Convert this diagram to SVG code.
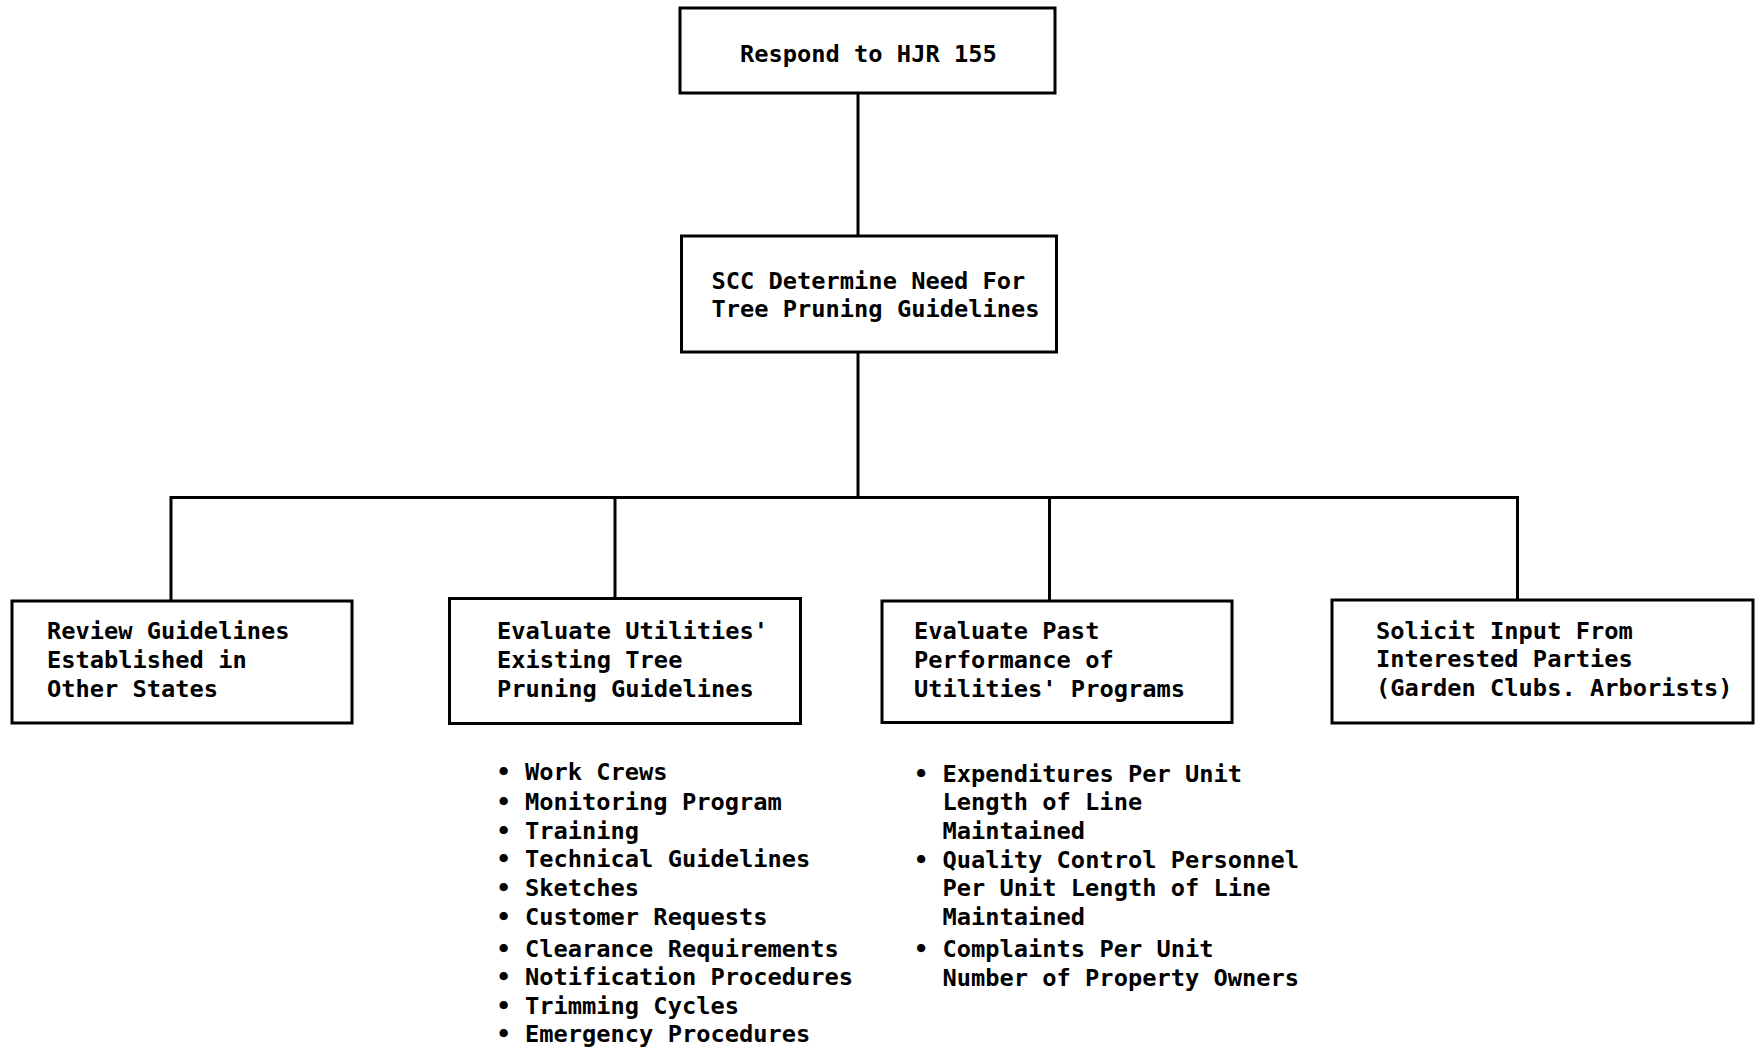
<svg xmlns="http://www.w3.org/2000/svg" width="1757" height="1049" viewBox="0 0 1757 1049">
<style>
.box{fill:#fff;stroke:#000;stroke-width:3}
.ln{fill:none;stroke:#000;stroke-width:3}
text{font-family:"DejaVu Sans Mono","Liberation Mono",monospace;font-size:23.7px;font-weight:bold;fill:#000}
</style>
<rect width="1757" height="1049" fill="#fff"/>
<g id="connectors">
<path class="ln" d="M858 93V236"/>
<path class="ln" d="M858 352V497.5"/>
<path class="ln" d="M171 600V497.5H1517.5V600"/>
<path class="ln" d="M615 497.5V598.5"/>
<path class="ln" d="M1049.5 497.5V601"/>
</g>
<g id="n1">
<rect class="box" x="680" y="8" width="375" height="85"/>
<text x="740" y="62">Respond to HJR 155</text>
</g>
<g id="n2">
<rect class="box" x="681.5" y="236" width="375" height="116"/>
<text x="711.5" y="288.5">SCC Determine Need For</text>
<text x="711.5" y="317">Tree Pruning Guidelines</text>
</g>
<g id="n3">
<rect class="box" x="12" y="601" width="340" height="122"/>
<text x="47" y="639">Review Guidelines</text>
<text x="47" y="668">Established in</text>
<text x="47" y="697">Other States</text>
</g>
<g id="n4">
<rect class="box" x="449.5" y="598.5" width="351" height="125"/>
<text x="497" y="639">Evaluate Utilities'</text>
<text x="497" y="668">Existing Tree</text>
<text x="497" y="697">Pruning Guidelines</text>
</g>
<g id="n5">
<rect class="box" x="882" y="601" width="350" height="121.5"/>
<text x="914" y="639">Evaluate Past</text>
<text x="914" y="668">Performance of</text>
<text x="914" y="697">Utilities' Programs</text>
</g>
<g id="n6">
<rect class="box" x="1332" y="600" width="421" height="123"/>
<text x="1376" y="638.5">Solicit Input From</text>
<text x="1376" y="667">Interested Parties</text>
<text x="1376" y="695.5">(Garden Clubs. Arborists)</text>
</g>
<g id="list1">
<text x="496.5" y="780">• Work Crews</text>
<text x="496.5" y="810">• Monitoring Program</text>
<text x="496.5" y="838.5">• Training</text>
<text x="496.5" y="867">• Technical Guidelines</text>
<text x="496.5" y="896">• Sketches</text>
<text x="496.5" y="925">• Customer Requests</text>
<text x="496.5" y="956.5">• Clearance Requirements</text>
<text x="496.5" y="985">• Notification Procedures</text>
<text x="496.5" y="1013.5">• Trimming Cycles</text>
<text x="496.5" y="1041.5">• Emergency Procedures</text>
</g>
<g id="list2">
<text x="914" y="781.5">• Expenditures Per Unit</text>
<text x="942.5" y="810">Length of Line</text>
<text x="942.5" y="838.5">Maintained</text>
<text x="914" y="867.5">• Quality Control Personnel</text>
<text x="942.5" y="896">Per Unit Length of Line</text>
<text x="942.5" y="925">Maintained</text>
<text x="914" y="956.5">• Complaints Per Unit</text>
<text x="942.5" y="986">Number of Property Owners</text>
</g>
</svg>
